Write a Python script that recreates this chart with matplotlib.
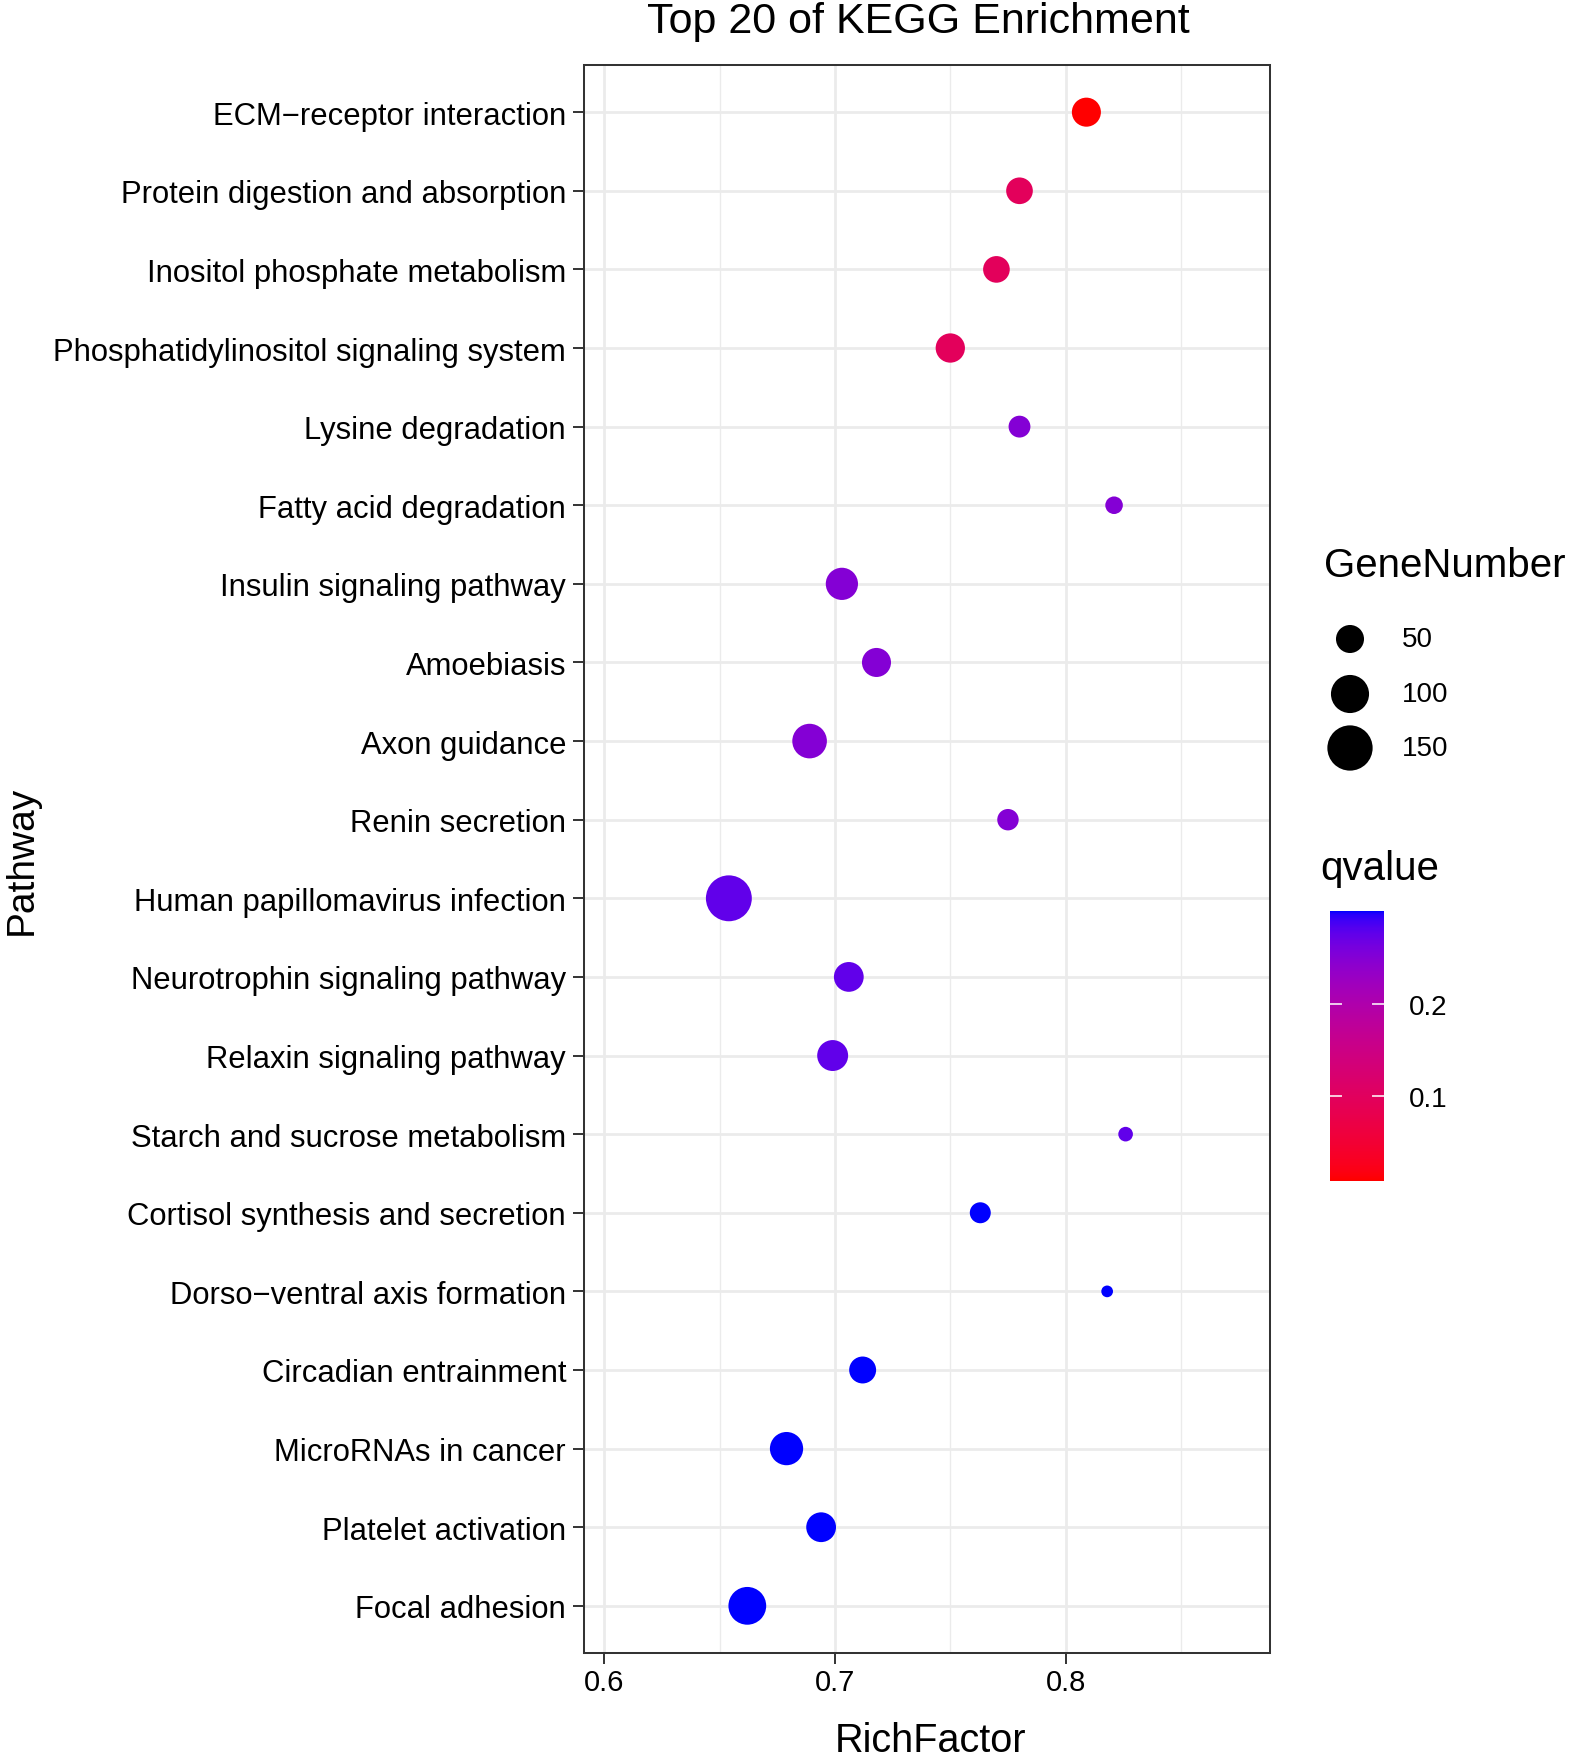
import numpy as np
import matplotlib
matplotlib.use("Agg")
import matplotlib.pyplot as plt
from matplotlib.colors import ListedColormap

# pathways listed top to bottom as in the figure
pathways = [
    "ECM\u2212receptor interaction",
    "Protein digestion and absorption",
    "Inositol phosphate metabolism",
    "Phosphatidylinositol signaling system",
    "Lysine degradation",
    "Fatty acid degradation",
    "Insulin signaling pathway",
    "Amoebiasis",
    "Axon guidance",
    "Renin secretion",
    "Human papillomavirus infection",
    "Neurotrophin signaling pathway",
    "Relaxin signaling pathway",
    "Starch and sucrose metabolism",
    "Cortisol synthesis and secretion",
    "Dorso\u2212ventral axis formation",
    "Circadian entrainment",
    "MicroRNAs in cancer",
    "Platelet activation",
    "Focal adhesion",
]
rich_factor = [0.809, 0.780, 0.770, 0.750, 0.780, 0.821, 0.703, 0.718, 0.689, 0.775,
               0.654, 0.706, 0.699, 0.826, 0.763, 0.818, 0.712, 0.679, 0.694, 0.662]
gene_number = [54, 45, 45, 55, 31, 23, 68, 54, 80, 30,
               155, 57, 62, 20, 29, 19, 46, 73, 57, 98]
qvalue = [0.007, 0.095, 0.095, 0.095, 0.25, 0.25, 0.25, 0.25, 0.25, 0.25,
          0.275, 0.275, 0.275, 0.275, 0.301, 0.301, 0.301, 0.301, 0.301, 0.301]
size_breaks = [50, 100, 150]
q_ticks = [0.1, 0.2]
x_ticks = [0.6, 0.7, 0.8]

W, H, DPI = 1594, 1758, 100
plt.rcParams['font.family'] = ['Liberation Sans', 'DejaVu Sans']

# red -> blue gradient interpolated in Lab, like ggplot's scale_colour_gradient
M = np.array([[0.4124564, 0.3575761, 0.1804375],
              [0.2126729, 0.7151522, 0.0721750],
              [0.0193339, 0.1191920, 0.9503041]])
WHITE = M @ np.ones(3)


def to_lab(rgb):
    c = np.asarray(rgb, float)
    c = np.where(c <= 0.04045, c / 12.92, ((c + 0.055) / 1.055) ** 2.4)
    xyz = M @ c / WHITE
    f = np.where(xyz > 0.008856, np.cbrt(xyz), 7.787 * xyz + 16 / 116)
    return np.array([116 * f[1] - 16, 500 * (f[0] - f[1]), 200 * (f[1] - f[2])])


def from_lab(lab):
    fy = (lab[0] + 16) / 116
    f = np.array([fy + lab[1] / 500, fy, fy - lab[2] / 200])
    xyz = np.where(f ** 3 > 0.008856, f ** 3, (f - 16 / 116) / 7.787) * WHITE
    c = np.clip(np.linalg.solve(M, xyz), 0, 1)
    c = np.where(c <= 0.0031308, 12.92 * c, 1.055 * c ** (1 / 2.4) - 0.055)
    return np.clip(c, 0, 1)


lo, hi = to_lab([1, 0, 0]), to_lab([0, 0, 1])
cmap = ListedColormap([from_lab(lo + t * (hi - lo)) for t in np.linspace(0, 1, 256)])
qmin, qmax = min(qvalue), max(qvalue)
gmin, gmax = min(gene_number), max(gene_number)


def marker_area(g):
    d_px = 11.7 + 34.2 * np.sqrt((np.asarray(g, float) - gmin) / (gmax - gmin))
    return (d_px * 72.0 / DPI) ** 2


fig = plt.figure(figsize=(W / DPI, H / DPI), dpi=DPI)
fig.patch.set_facecolor('white')

def fx(px):
    return px / W

def fy(px):
    return 1 - px / H

ax = fig.add_axes([fx(584), fy(1654), fx(1270) - fx(584), fy(66) - fy(1654)])
n = len(pathways)
ypos = np.arange(n)[::-1]
ax.scatter(rich_factor, ypos, s=marker_area(gene_number), c=qvalue, cmap=cmap,
           vmin=qmin, vmax=qmax, linewidths=0, zorder=3)
ax.set_xlim(0.5912, 0.8886)
ax.set_ylim(-0.6, n - 1 + 0.6)
ax.set_yticks(ypos)
ax.set_yticklabels(pathways)
ax.set_xticks(x_ticks)
ax.set_xticklabels([str(t) for t in x_ticks])
ax.set_xticks([0.65, 0.75, 0.85], minor=True)
ax.grid(True, which='major', color='#EBEBEB', linewidth=1.95, zorder=0)
ax.grid(True, which='minor', axis='x', color='#EBEBEB', linewidth=1.0, zorder=0)
ax.set_axisbelow(True)
ax.tick_params(axis='both', which='major', length=7.9, width=1.4, color='#333333',
               labelcolor='black')
ax.tick_params(axis='y', pad=5, labelsize=22.3)
ax.tick_params(axis='x', pad=3, labelsize=21)
ax.tick_params(which='minor', length=0)
for sp in ax.spines.values():
    sp.set_color('#333333')
    sp.set_linewidth(1.45)

fig.text(fx(918), fy(33), "Top 20 of KEGG Enrichment", ha='center', va='baseline', fontsize=31)
fig.text(fx(930), fy(1752), "RichFactor", ha='center', va='baseline', fontsize=28.5)
fig.text(fx(22), fy(860), "Pathway", ha='center', va='center', rotation=90, fontsize=28)

# size legend
ov = fig.add_axes([0, 0, 1, 1])
ov.set_xlim(0, W)
ov.set_ylim(H, 0)
ov.axis('off')
ov.text(1324, 577, "GeneNumber", ha='left', va='baseline', fontsize=29)
key_y = [640, 695, 749]
ov.scatter([1350] * len(size_breaks), key_y, s=marker_area(size_breaks), color='black', linewidths=0)
for yk, b in zip(key_y, size_breaks):
    ov.text(1402, yk, str(b), ha='left', va='center', fontsize=20)
ov.text(1320, 880, "qvalue", ha='left', va='baseline', fontsize=29)

# colour bar
cax = fig.add_axes([fx(1330), fy(1182), fx(1384) - fx(1330), fy(912) - fy(1182)])
cax.imshow(np.linspace(qmin, qmax, 300)[:, None], cmap=cmap, vmin=qmin, vmax=qmax,
           aspect='auto', origin='lower', extent=[0, 1, qmin, qmax])
for t in q_ticks:
    cax.plot([0, 0.2], [t, t], color='white', linewidth=1.4, alpha=0.8)
    cax.plot([0.8, 1], [t, t], color='white', linewidth=1.4, alpha=0.8)
cax.set_xlim(0, 1)
cax.set_ylim(qmin, qmax)
cax.set_xticks([])
cax.yaxis.tick_right()
cax.set_yticks(q_ticks)
cax.set_yticklabels([str(t) for t in q_ticks])
cax.tick_params(axis='y', length=0, pad=18, labelsize=20)
for sp in cax.spines.values():
    sp.set_visible(False)

fig.savefig("out.png", dpi=DPI)
